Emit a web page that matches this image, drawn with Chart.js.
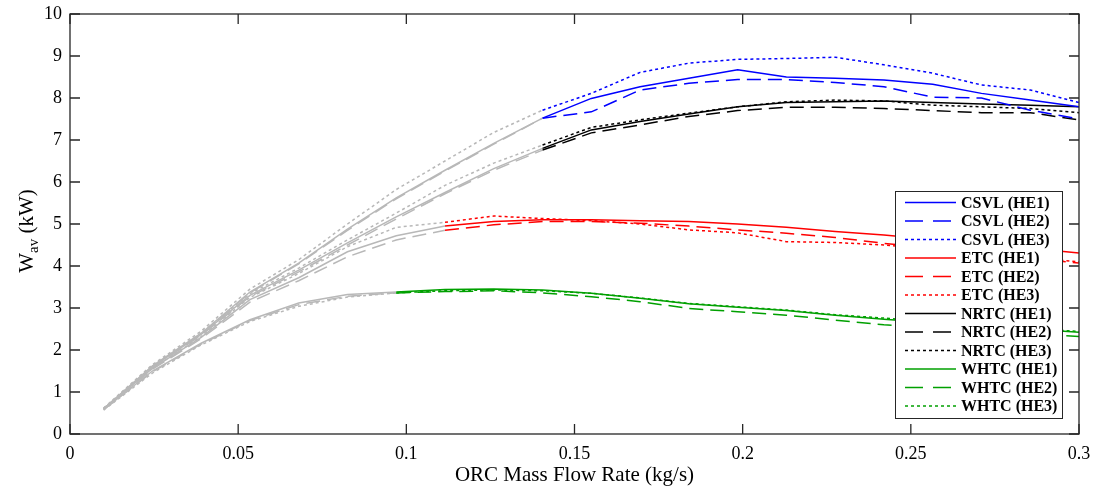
<!DOCTYPE html>
<html>
<head>
<meta charset="utf-8">
<script src="https://cdn.jsdelivr.net/npm/chart.js@4.4.1/dist/chart.umd.min.js"></script>
<style>
  html, body { margin: 0; padding: 0; background: #ffffff; }
  #wrap { width: 1095px; height: 488px; position: relative; }
</style>
</head>
<body>
<div id="wrap"><canvas id="c" width="1095" height="488"></canvas></div>
<script>
// ---- data ----
const xValues = [0.01, 0.0245, 0.039, 0.0535, 0.068, 0.0825, 0.097, 0.1115, 0.126, 0.1405,
                 0.155, 0.1695, 0.184, 0.1985, 0.213, 0.2275, 0.242, 0.2565, 0.271, 0.2855, 0.3];

const csvlHE1 = [0.60, 1.62, 2.40, 3.38, 4.07, 4.88, 5.62, 6.28, 6.92, 7.52, 7.99, 8.27, 8.47, 8.67, 8.50, 8.47, 8.43, 8.33, 8.11, 7.95, 7.79];
const csvlHE2 = [0.60, 1.60, 2.38, 3.36, 4.05, 4.85, 5.60, 6.26, 6.90, 7.52, 7.67, 8.19, 8.35, 8.44, 8.44, 8.37, 8.27, 8.02, 8.00, 7.71, 7.50];
const csvlHE3 = [0.62, 1.65, 2.45, 3.45, 4.15, 5.00, 5.82, 6.50, 7.18, 7.71, 8.11, 8.61, 8.83, 8.92, 8.94, 8.97, 8.79, 8.59, 8.31, 8.19, 7.89];
const etcHE1  = [0.60, 1.56, 2.30, 3.20, 3.72, 4.34, 4.72, 4.95, 5.06, 5.10, 5.10, 5.08, 5.06, 5.00, 4.92, 4.82, 4.74, 4.63, 4.52, 4.42, 4.31];
const etcHE2  = [0.60, 1.54, 2.27, 3.14, 3.65, 4.22, 4.62, 4.85, 4.98, 5.06, 5.06, 5.02, 4.95, 4.86, 4.78, 4.68, 4.54, 4.42, 4.30, 4.18, 4.07];
const etcHE3  = [0.60, 1.56, 2.32, 3.25, 3.82, 4.46, 4.92, 5.04, 5.19, 5.13, 5.08, 5.00, 4.86, 4.79, 4.58, 4.56, 4.50, 4.40, 4.30, 4.20, 4.10];
const nrtcHE1 = [0.60, 1.60, 2.37, 3.30, 3.90, 4.55, 5.17, 5.75, 6.32, 6.80, 7.24, 7.44, 7.62, 7.79, 7.89, 7.91, 7.93, 7.89, 7.86, 7.83, 7.79];
const nrtcHE2 = [0.60, 1.58, 2.35, 3.27, 3.86, 4.50, 5.12, 5.72, 6.28, 6.76, 7.17, 7.36, 7.56, 7.70, 7.78, 7.78, 7.75, 7.70, 7.65, 7.65, 7.48];
const nrtcHE3 = [0.61, 1.62, 2.40, 3.34, 3.95, 4.62, 5.26, 5.92, 6.45, 6.88, 7.30, 7.48, 7.64, 7.79, 7.91, 7.95, 7.93, 7.83, 7.79, 7.75, 7.65];
const whtcHE1 = [0.58, 1.50, 2.16, 2.72, 3.12, 3.32, 3.38, 3.44, 3.45, 3.43, 3.35, 3.23, 3.10, 3.02, 2.94, 2.83, 2.73, 2.65, 2.58, 2.50, 2.42];
const whtcHE2 = [0.58, 1.48, 2.14, 2.70, 3.08, 3.28, 3.36, 3.39, 3.41, 3.36, 3.27, 3.15, 2.99, 2.91, 2.83, 2.71, 2.60, 2.53, 2.46, 2.39, 2.32];
const whtcHE3 = [0.57, 1.45, 2.12, 2.68, 3.04, 3.26, 3.36, 3.41, 3.43, 3.41, 3.35, 3.24, 3.11, 3.03, 2.95, 2.84, 2.76, 2.68, 2.60, 2.52, 2.44];

// flow rate from which each cycle is drawn in colour (grey below)
const cycleNames = ['CSVL', 'ETC', 'NRTC', 'WHTC'];
const colouredFrom = [0.1405, 0.1115, 0.1405, 0.097];
const exchangerNames = ['HE1', 'HE2', 'HE3'];

const xTickValues = [0, 0.05, 0.1, 0.15, 0.2, 0.25, 0.3];
const xTickLabels = ['0', '0.05', '0.1', '0.15', '0.2', '0.25', '0.3'];
const yTickValues = [0, 1, 2, 3, 4, 5, 6, 7, 8, 9, 10];
const xAxisTitle = 'ORC Mass Flow Rate (kg/s)';

// ---- styles ----
const seriesByCycle = [[csvlHE1, csvlHE2, csvlHE3], [etcHE1, etcHE2, etcHE3],
                       [nrtcHE1, nrtcHE2, nrtcHE3], [whtcHE1, whtcHE2, whtcHE3]];
const cycleColours = ['#0000ff', '#ff0000', '#000000', '#00a000'];
const GREY = '#b8b8b8';
const dashPlot = [[], [14, 7], [3, 3]];
const dashLegend = [[], [18, 10], [3, 3]];
const FONT = '"Liberation Serif", "Times New Roman", serif';

const datasets = [];
cycleNames.forEach((cyc, ci) => {
  exchangerNames.forEach((he, hi) => {
    const ys = seriesByCycle[ci][hi];
    const col = cycleColours[ci];
    const from = colouredFrom[ci];
    datasets.push({
      label: cyc + ' (' + he + ')',
      data: xValues.map((x, i) => ({ x: x, y: ys[i] })),
      borderColor: col,
      borderWidth: 1.5,
      borderDash: dashPlot[hi],
      legendDash: dashLegend[hi],
      pointRadius: 0,
      tension: 0,
      fill: false,
      segment: {
        borderColor: ctx => (ctx.p1.parsed.x <= from + 1e-9 ? GREY : col)
      }
    });
  });
});

const framePlugin = {
  id: 'frame',
  afterDatasetsDraw(chart) {
    const ctx = chart.ctx;
    const ca = chart.chartArea;
    const xs = chart.scales.x, ys = chart.scales.y;
    ctx.save();
    ctx.strokeStyle = '#262626';
    ctx.lineWidth = 1.3;
    ctx.setLineDash([]);
    ctx.strokeRect(ca.left, ca.top, ca.right - ca.left, ca.bottom - ca.top);
    const tl = 10;
    ctx.beginPath();
    xTickValues.forEach(v => {
      const p = xs.getPixelForValue(v);
      ctx.moveTo(p, ca.bottom); ctx.lineTo(p, ca.bottom - tl);
      ctx.moveTo(p, ca.top); ctx.lineTo(p, ca.top + tl);
    });
    yTickValues.forEach(v => {
      const p = ys.getPixelForValue(v);
      ctx.moveTo(ca.left, p); ctx.lineTo(ca.left + tl, p);
      ctx.moveTo(ca.right, p); ctx.lineTo(ca.right - tl, p);
    });
    ctx.stroke();

    // legend
    const lw = 167, lh = 227;
    const lx = ca.right - 17 - lw, ly = ca.top + 177;
    ctx.fillStyle = '#ffffff';
    ctx.fillRect(lx, ly, lw, lh);
    ctx.strokeStyle = '#262626';
    ctx.lineWidth = 1;
    ctx.strokeRect(lx + 0.5, ly + 0.5, lw, lh);
    const rowH = 18.5;
    ctx.font = 'bold 16px ' + FONT;
    ctx.textBaseline = 'middle';
    ctx.textAlign = 'left';
    chart.data.datasets.forEach((ds, i) => {
      const cy = ly + 11.5 + i * rowH;
      ctx.strokeStyle = ds.borderColor;
      ctx.lineWidth = 1.5;
      ctx.setLineDash(ds.legendDash);
      ctx.beginPath();
      ctx.moveTo(lx + 10, cy);
      ctx.lineTo(lx + 61, cy);
      ctx.stroke();
      ctx.setLineDash([]);
      ctx.fillStyle = '#000000';
      ctx.fillText(ds.label, lx + 66, cy + 1);
    });

    // y-axis title with subscript
    ctx.save();
    const cx = 26, cyc = (ca.top + ca.bottom) / 2 + 7;
    ctx.translate(cx, cyc);
    ctx.rotate(-Math.PI / 2);
    ctx.fillStyle = '#000000';
    ctx.textBaseline = 'alphabetic';
    const fMain = '21px ' + FONT, fSub = '15px ' + FONT;
    ctx.font = fMain; const wW = ctx.measureText('W').width;
    ctx.font = fSub; const wSub = ctx.measureText('av').width;
    ctx.font = fMain; const wRest = ctx.measureText(' (kW)').width;
    const total = wW + wSub + wRest;
    let x0 = -total / 2;
    ctx.font = fMain; ctx.fillText('W', x0, 7); x0 += wW;
    ctx.font = fSub; ctx.fillText('av', x0, 12); x0 += wSub;
    ctx.font = fMain; ctx.fillText(' (kW)', x0, 7);
    ctx.restore();
    ctx.restore();
  }
};

new Chart(document.getElementById('c'), {
  type: 'line',
  data: { datasets: datasets },
  options: {
    responsive: false,
    animation: false,
    devicePixelRatio: 1,
    layout: { padding: { left: 0, right: 16, top: 14, bottom: 0 } },
    plugins: { legend: { display: false }, tooltip: { enabled: false } },
    scales: {
      x: {
        type: 'linear', min: 0, max: 0.3,
        afterBuildTicks: s => { s.ticks = xTickValues.map(v => ({ value: v })); },
        afterFit: s => { s.height = 54; s.paddingLeft = 0; s.paddingRight = 0; },
        grid: { display: false, drawTicks: false },
        border: { display: false },
        ticks: {
          padding: 9, color: '#000', font: { family: FONT, size: 18 },
          maxRotation: 0, autoSkip: false,
          callback: (v, i) => xTickLabels[i]
        },
        title: { display: true, text: xAxisTitle, color: '#000', font: { family: FONT, size: 21 }, padding: { top: 0, bottom: 0 } }
      },
      y: {
        type: 'linear', min: 0, max: 10,
        afterBuildTicks: s => { s.ticks = yTickValues.map(v => ({ value: v })); },
        afterFit: s => { s.width = 70; s.paddingTop = 0; s.paddingBottom = 0; },
        grid: { display: false, drawTicks: false },
        border: { display: false },
        ticks: { padding: 8, color: '#000', font: { family: FONT, size: 18 }, autoSkip: false,
                 callback: v => String(v) }
      }
    }
  },
  plugins: [framePlugin]
});
</script>
</body>
</html>
